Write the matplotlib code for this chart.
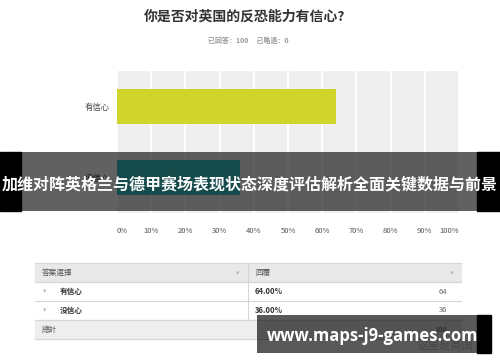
import matplotlib
matplotlib.use("Agg")
import matplotlib.pyplot as plt
from matplotlib.patches import Rectangle

plt.rcParams['font.family'] = ['Noto Sans CJK SC', 'DejaVu Sans']

title = "你是否对英国的反恐能力有信心?"
subtitle = "已回答：100     已略過：0"
categories = ["有信心", "没信心"]
percents = [64.0, 36.0]
counts = [64, 36]
total = 100
xticks = [0, 10, 20, 30, 40, 50, 60, 70, 80, 90, 100]
xticklabels = [f"{t}%" for t in xticks]
bar_colors = ["#cfd52a", "#3cc5c5"]
banner_text = "加维对阵英格兰与德甲赛场表现状态深度评估解析全面关键数据与前景"
watermark = "www.maps-j9-games.com"

W, H = 500, 362
fig = plt.figure(figsize=(W / 100, H / 100), dpi=100)

# chart axes
ax = fig.add_axes([117 / W, 1 - 213 / H, 342 / W, 142 / H])
ax.set_facecolor("#efefef")
ax.barh(range(len(categories)), percents, height=0.5, color=bar_colors, zorder=3)
ax.set_xlim(0, 100)
ax.set_ylim(1.5, -0.5)
ax.set_xticks(xticks)
ax.set_xticklabels(xticklabels, fontsize=5.5, color="#555555")
labs = ax.get_xticklabels()
labs[0].set_ha("left")
labs[-1].set_ha("right")
ax.set_yticks(range(len(categories)))
ax.set_yticklabels(categories, fontsize=6, color="#444444")
ax.tick_params(axis="x", length=0, pad=10)
ax.tick_params(axis="y", length=0, pad=5)
ax.grid(axis="x", color="white", linewidth=1.3, zorder=1)
for s in ax.spines.values():
    s.set_visible(False)

# overlay axes in pixel coordinates
ov = fig.add_axes([0, 0, 1, 1])
ov.set_xlim(0, W)
ov.set_ylim(H, 0)
ov.axis("off")
ov.patch.set_alpha(0)

ov.text(245, 17, title, ha="center", va="center", fontsize=10, fontweight="bold", color="#333333")
ov.text(248, 40, subtitle, ha="center", va="center", fontsize=5, fontweight="bold", color="#9a9a9a")

# table
x0, x1, xmid = 35, 461, 248
rows = [263, 282, 301, 320, 339]
ov.add_patch(Rectangle((x0, rows[0]), x1 - x0, rows[1] - rows[0], color="#e9e9e9", zorder=1))
ov.add_patch(Rectangle((x0, rows[3]), x1 - x0, rows[4] - rows[3], color="#eeeeee", zorder=1))
for y in rows:
    ov.plot([x0, x1], [y, y], color="#d6d6d6", lw=0.8, zorder=2)
ov.plot([xmid, xmid], [rows[0], rows[3]], color="#d6d6d6", lw=0.8, zorder=2)
fs = 5.5
ov.text(42, 272.5, "答案選擇", va="center", fontsize=fs, color="#555555")
ov.text(255, 272.5, "回覆", va="center", fontsize=fs, color="#555555")
ov.text(238, 273, "▾", ha="center", va="center", fontsize=5, color="#bbbbbb")
ov.text(452, 273, "▾", ha="center", va="center", fontsize=5, color="#bbbbbb")
for i, (c, p, n) in enumerate(zip(categories, percents, counts)):
    yc = (rows[i + 1] + rows[i + 2]) / 2
    ov.text(45, yc, "▾", ha="center", va="center", fontsize=5, color="#bbbbbb")
    ov.text(60, yc, c, va="center", fontsize=fs, color="#333333", fontweight="bold")
    ov.text(255, yc, f"{p:.2f}%", va="center", fontsize=fs, color="#333333", fontweight="bold")
    ov.text(447, yc, str(n), ha="right", va="center", fontsize=fs, color="#666666")
ov.text(42, 329.5, "總計", va="center", fontsize=fs, color="#555555")
ov.text(447, 329.5, str(total), ha="right", va="center", fontsize=fs, color="#666666")
ov.text(445, 345, "这里是英国", ha="center", va="center", fontsize=8, color="#c8c8c8")

# banner overlay
ov.add_patch(Rectangle((0, 152), 21, 59, color="black", zorder=5))
ov.add_patch(Rectangle((477, 152), 23, 59, color="black", zorder=5))
ov.add_patch(Rectangle((21, 152), 456, 59, color="black", alpha=0.62, zorder=5, lw=0))
ov.text(250, 184, banner_text, ha="center", va="center", fontsize=11.5, fontweight="bold",
        color="white", zorder=6)

# watermark
ov.add_patch(Rectangle((257, 315), 220, 38, color="black", alpha=0.65, zorder=5, lw=0))
ov.add_patch(Rectangle((477, 315), 14, 38, color="black", zorder=5))
ov.text(373, 336, watermark, ha="center", va="center", fontsize=12, fontweight="bold",
        color="white", family=["Open Sans", "DejaVu Sans"], zorder=6)

fig.savefig("out.png", dpi=100)
